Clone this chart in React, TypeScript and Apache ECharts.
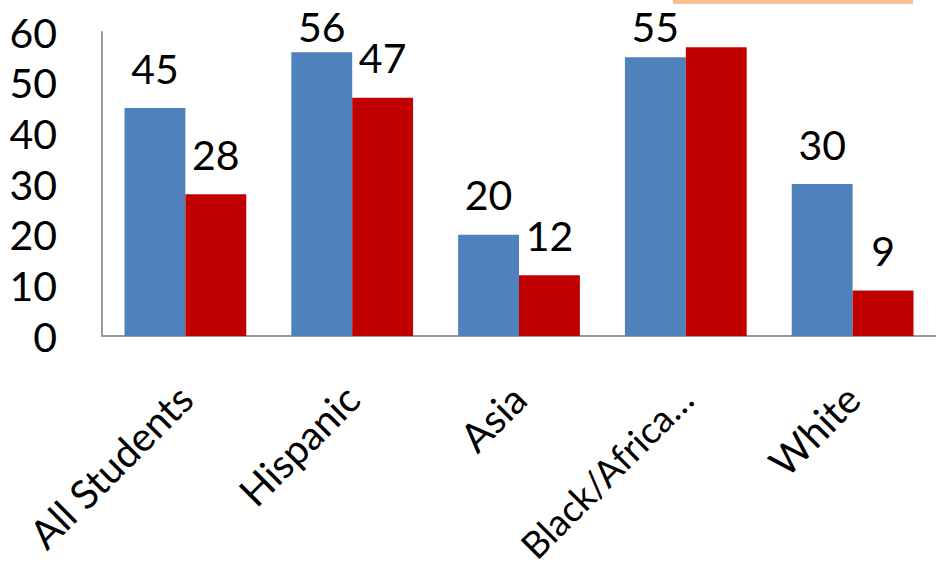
import React, { useEffect, useRef } from "react";
import * as echarts from "echarts";

const categories = ["All Students", "Hispanic", "Asia", "Black/Africa\u2026", "White"];
const seriesA = [45, 56, 20, 55, 30];
const seriesB = [28, 47, 12, 57, 9];
const hiddenLabelB = [false, false, false, true, false];
const yTicks = { min: 0, max: 60, interval: 10 };

const FONT = "Lato, 'Open Sans', sans-serif";
const FS = 41;
const LABEL_DIST = 25;
// labels of the tallest bars sit closer to the bar to stay inside the picture
const labelDistA = [LABEL_DIST, 11, LABEL_DIST, 16, LABEL_DIST];
// the long category label is set a little smaller so it stays inside the picture
const catFontSize = [40, 40, 40, 37, 40];
const catPadTop = [19, 19, 19, 20, 19];

export default function App() {
  const ref = useRef<HTMLDivElement>(null);
  useEffect(() => {
    if (!ref.current) return;
    const chart = echarts.init(ref.current, null, { renderer: "svg" });
    const labelStyle = {
      show: true,
      position: "top" as const,
      distance: LABEL_DIST,
      color: "#000",
      fontSize: FS,
      lineHeight: 30,
      fontFamily: FONT,
    };
    chart.setOption({
      animation: false,
      backgroundColor: "#fff",
      grid: {
        left: 102,
        top: 32,
        right: 0,
        bottom: 232,
        containLabel: false,
        outerBoundsMode: "none",
      },
      xAxis: {
        type: "category",
        data: categories.map((c, i) => ({
          value: c,
          textStyle: { fontSize: catFontSize[i], padding: [catPadTop[i], 0, 0, 0] },
        })),
        axisLine: { lineStyle: { color: "#999", width: 2 } },
        axisTick: { show: false },
        axisLabel: {
          rotate: 45,
          interval: 0,
          margin: 56,
          padding: [19, 0, 0, 0],
          color: "#000",
          fontSize: 40,
          fontFamily: FONT,
        },
      },
      yAxis: {
        type: "value",
        min: yTicks.min,
        max: yTicks.max,
        interval: yTicks.interval,
        axisLine: { show: true, lineStyle: { color: "#999", width: 2 } },
        axisTick: { show: false },
        splitLine: { show: false },
        axisLabel: {
          margin: 45,
          color: "#000",
          fontSize: FS,
          fontFamily: FONT,
        },
      },
      series: [
        {
          type: "bar",
          data: seriesA.map((v, i) => ({
            value: v,
            label: { distance: labelDistA[i] },
          })),
          barGap: "0%",
          barCategoryGap: "27%",
          itemStyle: { color: "#4F81BD" },
          label: labelStyle,
        },
        {
          type: "bar",
          data: seriesB.map((v, i) => ({
            value: v,
            label: { show: !hiddenLabelB[i] },
          })),
          itemStyle: { color: "#C00000" },
          label: labelStyle,
        },
      ],
      graphic: [
        {
          type: "rect",
          left: 673,
          top: 0,
          shape: { width: 240, height: 4 },
          style: { fill: "#FAC090" },
        },
      ],
    });
    return () => chart.dispose();
  }, []);
  return (
    <div
      ref={ref}
      style={{ position: "fixed", left: 0, top: 0, width: 936, height: 568 }}
    />
  );
}
